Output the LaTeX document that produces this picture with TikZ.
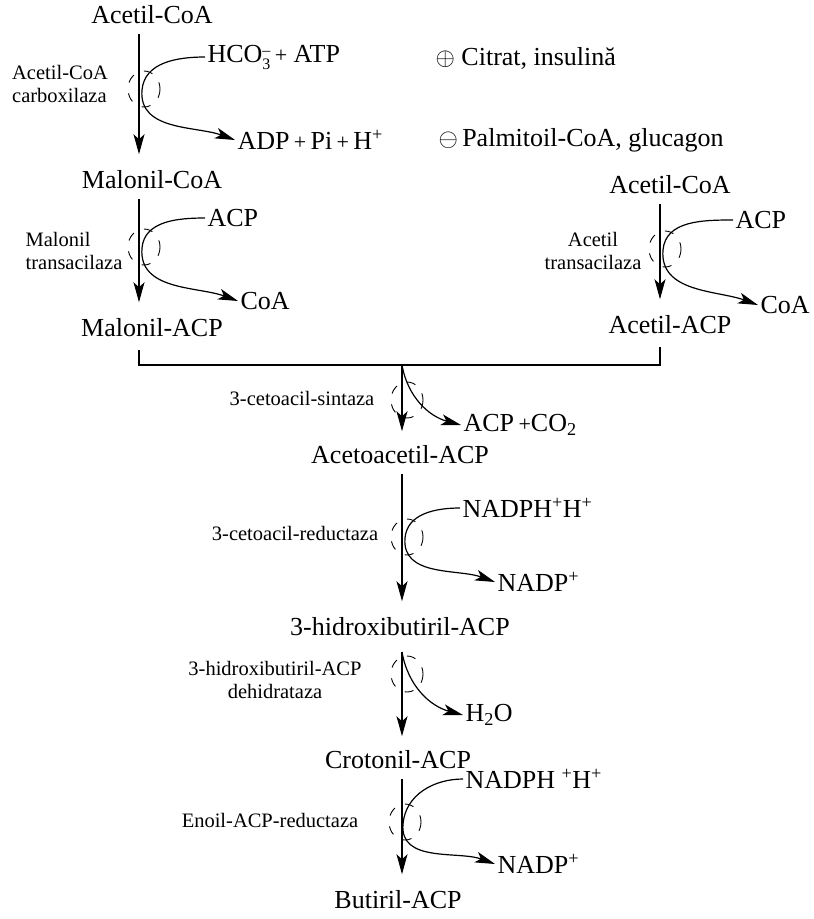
\documentclass[tikz,border=0pt]{standalone}
\usepackage{fontspec}
\setmainfont{Liberation Serif}
\usepackage{amsmath}
\usetikzlibrary{arrows.meta}

\newcommand{\splus}{{\fontsize{22}{22}\selectfont+}}

\tikzset{
  metab/.style={font=\fontsize{26}{29}\selectfont, inner sep=2pt},
  side/.style={metab, anchor=west},
  enzname/.style={font=\fontsize{20.5}{23}\selectfont, align=center, inner sep=1pt},
  ring/.style={line width=0.9pt, dash pattern=on 9pt off 11pt},
  rxn/.style={->, shorten <=7pt, shorten >=14pt}
}

\begin{document}
\begin{tikzpicture}[x=1pt, y=-1pt, line width=1.2pt, >={Stealth[length=20pt,width=11pt,inset=5pt]}]
  \useasboundingbox (0,0) rectangle (814,919);

  \coordinate (lnA) at (139,0);
  \coordinate (lnB) at (660,0);
  \coordinate (lnC) at (402,0);

  % left branch
  \node[metab] (acCoA) at (152,15) {Acetil-CoA};
  \node[metab] (malCoA) at (152,180) {Malonil-CoA};
  \node[metab] (malACP) at (152,328) {Malonil-ACP};

  \node[side] (hco) at (205,57) {HCO\raisebox{-7pt}{\fontsize{16}{16}\selectfont\shortstack{--\\3}}\,\splus{} ATP};
  \node[side] (adp) at (235,140) {ADP\,\splus\,Pi\,\splus\,H\textsuperscript{+}};
  \node[enzname, align=left] (carb) at (60,84) {Acetil-CoA\\carboxilaza};
  \draw[rxn] (acCoA.south -| lnA) -- (malCoA.north -| lnA);
  \coordinate (t1) at (142,90);
  \draw[->] (hco.west) to[out=180,in=85] (t1) to[out=-95,in=160] (adp.west);
  \draw[ring] (144,89) ellipse (16 and 18);

  \node[side] (acp1) at (205,218) {ACP};
  \node[side] (coa1) at (238,301) {CoA};
  \node[enzname, align=left] (mtra) at (74,251) {Malonil\\transacilaza};
  \draw[rxn] (malCoA.south -| lnA) -- (malACP.north -| lnA);
  \coordinate (t2) at (142,248);
  \draw[->] (acp1.west) to[out=180,in=85] (t2) to[out=-95,in=160] (coa1.west);
  \draw[ring] (144,247) ellipse (16 and 18);

  % regulation
  \node[side] (plus) at (433,58) {$\oplus$ Citrat, insulină};
  \node[side] (minus) at (436,140) {$\ominus$\,Palmitoil-CoA, glucagon};

  % right branch
  \node[metab] (acCoA2) at (670,185) {Acetil-CoA};
  \node[metab] (acACP) at (670,325) {Acetil-ACP};
  \node[side] (acp2) at (733,220) {ACP};
  \node[side] (coa2) at (758,305) {CoA};
  \node[enzname] (atra) at (593,251) {Acetil\\transacilaza};
  \draw[rxn] (acCoA2.south -| lnB) -- (acACP.north -| lnB);
  \coordinate (t3) at (663,250);
  \draw[->] (acp2.west) to[out=180,in=85] (t3) to[out=-95,in=160] (coa2.west);
  \draw[ring] (665,249) ellipse (16 and 18);

  % condensation
  \coordinate (j) at (402,365);
  \draw ([yshift=-10pt]malACP.south -| lnA) |- (j) -| ([yshift=-10pt]acACP.south -| lnB);
  \node[metab] (acac) at (400,455) {Acetoacetil-ACP};
  \node[side] (acpco) at (461,425) {ACP\,\splus CO\textsubscript{2}};
  \node[enzname] (sint) at (302,398) {3-cetoacil-sintaza};
  \draw[->, shorten >=12pt] (j) -- (acac.north -| lnC);
  \draw[->] (j) to[out=-80,in=165] (acpco.west);
  \draw[ring] (407,400) ellipse (16 and 18);

  % reduction
  \node[metab] (hbACP) at (400,627) {3-hidroxibutiril-ACP};
  \node[side] (nadph1) at (460,508) {NADPH\textsuperscript{+}H\textsuperscript{+}};
  \node[side] (nadp1) at (495,582) {NADP\textsuperscript{+}};
  \node[enzname] (cred) at (295,533) {3-cetoacil-reductaza};
  \draw[rxn] (acac.south -| lnC) -- (hbACP.north -| lnC);
  \coordinate (t4) at (405,538);
  \draw[->] (nadph1.west) to[out=180,in=85] (t4) to[out=-95,in=160] (nadp1.west);
  \draw[ring] (407,537) ellipse (16 and 18);

  % dehydration
  \node[metab] (crACP) at (398,760) {Crotonil-ACP};
  \node[side] (water) at (463,715) {H\textsubscript{2}O};
  \node[enzname] (dehy) at (275,680) {3-hidroxibutiril-ACP\\dehidrataza};
  \coordinate (d0) at (402,652);
  \draw[->, shorten >=12pt] (d0) -- (crACP.north -| lnC);
  \draw[->] (d0) to[out=-80,in=165] (water.west);
  \draw[ring] (407,674) ellipse (16 and 18);

  % second reduction
  \node[metab] (butACP) at (398,900) {Butiril-ACP};
  \node[side] (nadph2) at (463,779) {NADPH \textsuperscript{+}H\textsuperscript{+}};
  \node[side] (nadp2) at (495,864) {NADP\textsuperscript{+}};
  \node[enzname] (enred) at (270,820) {Enoil-ACP-reductaza};
  \draw[rxn] (crACP.south -| lnC) -- (butACP.north -| lnC);
  \coordinate (t5) at (403,824);
  \draw[->] (nadph2.west) to[out=180,in=85] (t5) to[out=-95,in=160] (nadp2.west);
  \draw[ring] (405,822) ellipse (16 and 18);

\end{tikzpicture}
\end{document}
